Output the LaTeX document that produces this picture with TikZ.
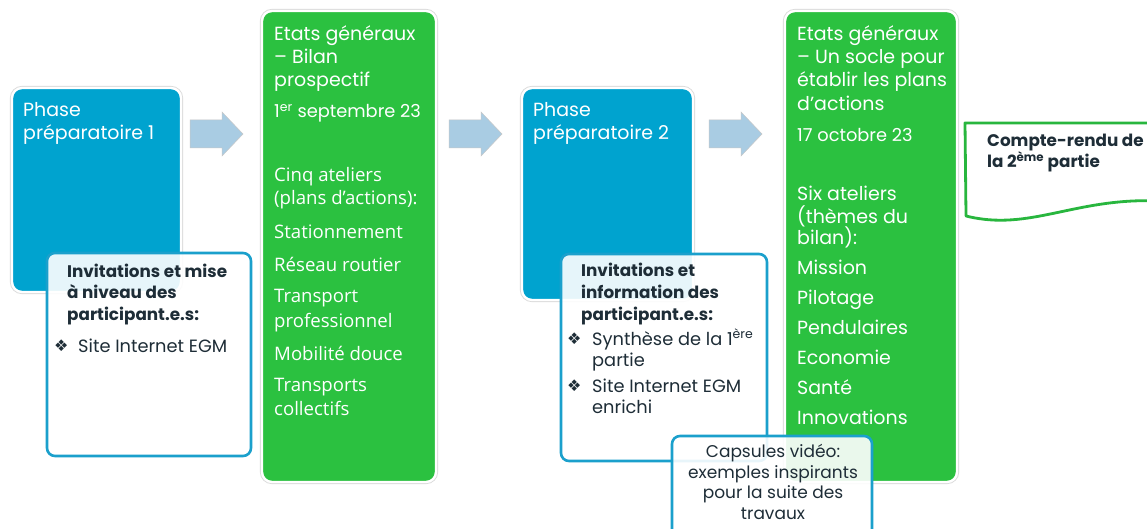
\documentclass[tikz,border=0pt]{standalone}
\usepackage{fontspec}
\setmainfont{Poppins}
\newfontfamily\osans{Open Sans}
\newfontfamily\sym{DejaVu Sans}
\definecolor{pblue}{RGB}{0,163,207}
\definecolor{pgreen}{RGB}{43,193,64}
\definecolor{bordblue}{RGB}{27,160,204}
\definecolor{arrowblue}{RGB}{169,204,227}
\definecolor{darktext}{RGB}{30,45,55}
\definecolor{docgreen}{RGB}{40,182,62}
\tikzset{
  outline/.style={preaction={draw=black!14, line width=4.2pt}, draw=white, line width=2.4pt},
  phasebox/.style={outline, fill=pblue, rounded corners=10pt, anchor=north west, inner sep=0pt, outer sep=0pt},
  greenbox/.style={outline, fill=pgreen, rounded corners=10pt, anchor=north west, inner sep=0pt, outer sep=0pt},
  infobox/.style={draw=bordblue, line width=2.6pt, fill=white, fill opacity=0.9, rounded corners=8pt, anchor=north west, inner sep=0pt, outer sep=0pt},
  barrow/.style={fill=arrowblue, draw=black!22, line width=0.5pt},
  wt/.style={text=white, anchor=base west, inner sep=0pt, font=\fontsize{19}{23}\selectfont},
  wdate/.style={wt, font=\fontsize{17.8}{22}\selectfont},
  ot/.style={text=white, anchor=base west, inner sep=0pt, font=\osans\fontsize{18.6}{22}\selectfont},
  bt/.style={text=darktext, anchor=base west, inner sep=0pt, font=\bfseries\fontsize{16.8}{20}\selectfont},
  dt/.style={text=darktext, anchor=base west, inner sep=0pt, font=\fontsize{17.8}{21}\selectfont},
  bul/.style={text=darktext, anchor=base west, inner sep=0pt, font=\sym\fontsize{16}{18}\selectfont},
  ct/.style={text=darktext, anchor=base, inner sep=0pt, font=\fontsize{17}{20}\selectfont},
}
\begin{document}
\begin{tikzpicture}[x=1pt,y=-1pt]
\useasboundingbox[fill=white] (0,0) rectangle (1147,529);

% ---- Phase 1
\node[phasebox, minimum width=169pt, minimum height=204pt] (p1) at (12,88) {};
\node[wt] (p1a) at (23,117) {Phase};
\node[wt] (p1b) at (23,140) {préparatoire 1};
\node[infobox, minimum width=204pt, minimum height=203pt] (w1) at (47,253) {};
\node[bt] (w1a) at (67,277) {Invitations et mise};
\node[bt] (w1b) at (67,298) {à niveau des};
\node[bt] (w1c) at (67,320) {participant.e.s:};
\node[bul] (w1d) at (54,351) {❖};
\node[dt] (w1e) at (78,352) {Site Internet EGM};

% ---- block arrows
\foreach \ax in {190,449,709}{
  \draw[barrow] (\ax,120) -- (\ax+32,120) -- (\ax+32,112) -- (\ax+53,134)
    -- (\ax+32,156) -- (\ax+32,148) -- (\ax,148) -- cycle;
}

% ---- Etats generaux 1
\node[greenbox, minimum width=174pt, minimum height=471pt] (g1) at (262,11) {};
\node[wt] (g1a) at (274,41) {Etats généraux};
\node[wt] (g1b) at (274,64) {– Bilan};
\node[wt] (g1c) at (274,87) {prospectif};
\node[wdate] (g1d) at (274,118) {1\textsuperscript{er} septembre 23};
\node[ot] (g1e) at (274,182) {Cinq ateliers};
\node[ot] (g1f) at (274,205) {(plans d’actions):};
\node[ot] (g1g) at (274,238) {Stationnement};
\node[ot] (g1h) at (274,271) {Réseau routier};
\node[ot] (g1i) at (274,302) {Transport};
\node[ot] (g1j) at (274,327) {professionnel};
\node[ot] (g1k) at (274,360) {Mobilité douce};
\node[ot] (g1l) at (274,391) {Transports};
\node[ot] (g1m) at (274,415) {collectifs};

% ---- Phase 2
\node[phasebox, minimum width=171pt, minimum height=212pt] (p2) at (522,88) {};
\node[wt] (p2a) at (533,117) {Phase};
\node[wt] (p2b) at (533,140) {préparatoire 2};

% ---- Etats generaux 2
\node[greenbox, minimum width=172pt, minimum height=471pt] (g2) at (785,11) {};
\node[wt] (g2a) at (797,41) {Etats généraux};
\node[wt] (g2b) at (797,64) {– Un socle pour};
\node[wt] (g2c) at (797,87) {établir les plans};
\node[wt] (g2d) at (797,111) {d'actions};
\node[wdate] (g2e) at (797,142) {17 octobre 23};
\node[wt] (g2f) at (797,201) {Six ateliers};
\node[wt] (g2g) at (797,223) {(thèmes du};
\node[wt] (g2h) at (797,244) {bilan):};
\node[wt] (g2i) at (797,274) {Mission};
\node[wt] (g2j) at (797,304) {Pilotage};
\node[wt] (g2k) at (797,334) {Pendulaires};
\node[wt] (g2l) at (797,364) {Economie};
\node[wt] (g2m) at (797,394) {Santé};
\node[wt] (g2n) at (797,424) {Innovations};

% ---- info box 2
\node[infobox, minimum width=206pt, minimum height=207pt] (w2) at (561,254) {};
\node[bt] (w2a) at (581,276) {Invitations et};
\node[bt] (w2b) at (581,298) {information des};
\node[bt] (w2c) at (581,320) {participant.e.s:};
\node[bul] (w2d) at (567,344) {❖};
\node[dt] (w2e) at (592,345) {Synthèse de la 1\textsuperscript{ère}};
\node[dt] (w2f) at (592,366) {partie};
\node[bul] (w2g) at (567,391) {❖};
\node[dt] (w2h) at (592,392) {Site Internet EGM};
\node[dt] (w2i) at (592,413) {enrichi};

% ---- capsule
\node[infobox, minimum width=200pt, minimum height=110pt] (cap) at (672,436) {};
\node[ct] (capa) at (773,457) {Capsules vidéo:};
\node[ct] (capb) at (773,478) {exemples inspirants};
\node[ct] (capc) at (773,498) {pour la suite des};
\node[ct] (capd) at (773,519) {travaux};

% ---- compte-rendu document
\draw[draw=docgreen, line width=2.8pt, fill=white, line join=round]
  (965,123) -- (1160,123) -- (1160,201)
  .. controls (1075,197) and (1030,232) .. (966,216) -- cycle;
\node[bt, font=\bfseries\fontsize{16.8}{21}\selectfont] (cr1) at (987,147) {Compte-rendu de};
\node[bt, font=\bfseries\fontsize{16.8}{21}\selectfont] (cr2) at (987,168) {la 2\textsuperscript{ème} partie};
\end{tikzpicture}
\end{document}
